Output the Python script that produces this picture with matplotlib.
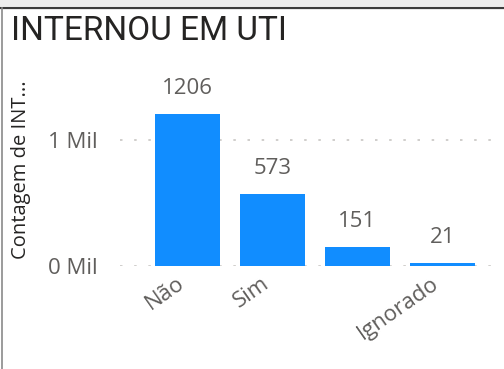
import matplotlib
matplotlib.use("Agg")
import matplotlib.pyplot as plt
from matplotlib.lines import Line2D
from matplotlib.patches import Rectangle
import matplotlib.transforms as mtransforms

# Data
categories = ["Não", "Sim", "", "Ignorado"]
counts = [1206, 573, 151, 21]
ytick_values = [0, 1000]
ytick_labels = ["0 Mil", "1 Mil"]
title = "INTERNOU EM UTI"
ylabel = "Contagem de INT..."

W, H, DPI = 504, 369, 100
fig = plt.figure(figsize=(W / DPI, H / DPI), dpi=DPI)
fig.patch.set_facecolor("white")

BLUE = "#118DFF"
GRAY_TXT = "#605E5C"
DARK_TXT = "#252423"
LABEL_FONT = ["Open Sans", "DejaVu Sans"]

def px_x(x):
    return x / W

def px_y(y):
    return 1 - y / H

# Visual frame around the tile
fig.add_artist(Rectangle((0, px_y(6)), 1, 6 / H, transform=fig.transFigure,
                         facecolor="#EDEDED", edgecolor="none"))
fig.add_artist(Line2D([0, 1], [px_y(7.5), px_y(7.5)], transform=fig.transFigure,
                      color="#3C3C3C", lw=1.6))
fig.add_artist(Line2D([px_x(1.5), px_x(1.5)], [0, px_y(7.5)], transform=fig.transFigure,
                      color="#8A8A8A", lw=1.2))

# Title
fig.text(px_x(11), px_y(31), title, fontsize=24, color=DARK_TXT,
         family=["Liberation Sans Narrow", "Roboto", "DejaVu Sans"],
         ha="left", va="center")

# Axis title (rotated, left side)
fig.text(px_x(21), px_y(170), ylabel, fontsize=14.5, color=DARK_TXT,
         family=LABEL_FONT, rotation=90, ha="center", va="center")

# Axes placement in pixels
left, right = 120, 500
y0_px = 266
px_per_unit = 0.126
ytop = 1500
top_px = y0_px - ytop * px_per_unit
ax = fig.add_axes([px_x(left), px_y(y0_px), (right - left) / W, (y0_px - top_px) / H])

x = list(range(len(categories)))
ax.bar(x, counts, width=0.765, color=BLUE, zorder=3)
ax.set_xlim(-0.79, 3.68)
ax.set_ylim(0, ytop)

for s in ax.spines.values():
    s.set_visible(False)

ax.set_yticks(ytick_values)
ax.set_yticklabels(ytick_labels, fontsize=16, color=GRAY_TXT, family=LABEL_FONT)
ax.tick_params(axis="y", length=0, pad=16)
ax.yaxis.grid(True, color="#C8C6C4", linestyle=(0, (1.5, 7)), lw=1.2, zorder=1)

ax.set_xticks(x)
ax.set_xticklabels(categories, fontsize=16, color=GRAY_TXT, family=LABEL_FONT)
ax.tick_params(axis="x", length=0, pad=5)
offset = mtransforms.ScaledTranslation(-11 / DPI, 0, fig.dpi_scale_trans)
for lbl in ax.get_xticklabels():
    lbl.set_rotation(35)
    lbl.set_ha("right")
    lbl.set_rotation_mode("anchor")
    lbl.set_transform(lbl.get_transform() + offset)

for xi, v in zip(x, counts):
    ax.annotate(f"{v}", (xi, v), xytext=(0, 11), textcoords="offset points",
                ha="center", va="bottom", fontsize=16, color=GRAY_TXT, family=LABEL_FONT)

fig.savefig("out.png", dpi=DPI, facecolor="white")
